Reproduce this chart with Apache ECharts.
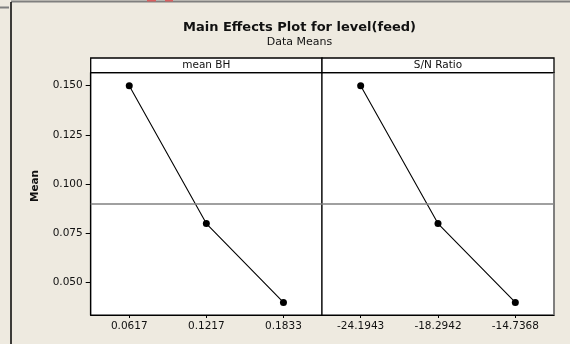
<!DOCTYPE html>
<html>
<head>
<meta charset="utf-8">
<script src="https://cdn.jsdelivr.net/npm/echarts@6/dist/echarts.min.js"></script>
<style>
html,body{margin:0;padding:0;background:#EEEAE0;}
#c{width:570px;height:344px;}
</style>
</head>
<body>
<div id="c"></div>
<script>
const levelsBH = ['0.0617', '0.1217', '0.1833'];
const levelsSN = ['-24.1943', '-18.2942', '-14.7368'];
const meansBH = [0.150, 0.080, 0.040];
const meansSN = [0.150, 0.080, 0.040];
const grandMean = 0.090;
const yTicks = [0.050, 0.075, 0.100, 0.125, 0.150];
const panelTitles = ['mean BH', 'S/N Ratio'];
const yMin = 0.0336, yMax = 0.1566;

const FONT = 'DejaVu Sans';
const chart = echarts.init(document.getElementById('c'), null, {renderer: 'canvas'});

const gridTop = 72.7, gridBottom = 29;
const pL = 90.7, pM = 322, pR = 554;

function xAxisFor(idx, cats) {
  return {
    type: 'category', gridIndex: idx, data: cats, boundaryGap: true,
    axisLine: {show: true, lineStyle: {color: '#000', width: 1.2}},
    axisTick: {show: true, alignWithLabel: true, length: 3, lineStyle: {color: '#000'}},
    axisLabel: {color: '#111', fontFamily: FONT, fontSize: 10.5, margin: 6},
    splitLine: {show: false}
  };
}
function yAxisFor(idx, showLabels) {
  return {
    type: 'value', gridIndex: idx, min: yMin, max: yMax,
    axisLine: {show: showLabels, lineStyle: {color: '#000', width: 1.2}},
    axisTick: {show: showLabels, customValues: yTicks, length: 5, lineStyle: {color: '#000'}},
    axisLabel: {show: showLabels, customValues: yTicks, color: '#111', fontFamily: FONT, fontSize: 10.5, margin: 8,
      formatter: v => v.toFixed(3)},
    splitLine: {show: false}
  };
}
function seriesFor(idx, vals) {
  return {
    type: 'line', xAxisIndex: idx, yAxisIndex: idx, data: vals,
    symbol: 'circle', symbolSize: 7, animation: false,
    itemStyle: {color: '#000'}, lineStyle: {color: '#000', width: 1.1},
    markLine: {
      silent: true, symbol: 'none', label: {show: false},
      lineStyle: {color: '#808080', width: 1.5, type: 'solid'},
      data: [{yAxis: grandMean}]
    }
  };
}

const headerGraphics = [];
[[pL, pM], [pM, pR]].forEach((b, i) => {
  headerGraphics.push({
    type: 'rect', shape: {x: b[0], y: 58, width: b[1] - b[0], height: 14.7},
    style: {fill: '#fff', stroke: '#000', lineWidth: 1.3}, z: 10
  });
  headerGraphics.push({
    type: 'text', x: (b[0] + b[1]) / 2, y: 65.5,
    style: {text: panelTitles[i], fill: '#111', font: '10.5px "DejaVu Sans"', textAlign: 'center', textVerticalAlign: 'middle'}, z: 11
  });
});

chart.setOption({
  backgroundColor: '#EEEAE0',
  animation: false,
  title: [{
    text: 'Main Effects Plot for level(feed)',
    subtext: 'Data Means',
    left: 294.5, top: 16, textAlign: 'center', itemGap: 3,
    textStyle: {fontFamily: FONT, fontWeight: 'bold', fontSize: 13, color: '#111'},
    subtextStyle: {fontFamily: FONT, fontSize: 11, color: '#111'}
  }],
  grid: [
    {left: pL, right: 570 - pM, top: gridTop, bottom: gridBottom, show: true, backgroundColor: '#fff', borderColor: '#000', borderWidth: 1.2},
    {left: pM, right: 570 - pR, top: gridTop, bottom: gridBottom, show: true, backgroundColor: '#fff', borderColor: '#000', borderWidth: 1.2}
  ],
  xAxis: [xAxisFor(0, levelsBH), xAxisFor(1, levelsSN)],
  yAxis: [yAxisFor(0, true), yAxisFor(1, false)],
  series: [seriesFor(0, meansBH), seriesFor(1, meansSN)],
  graphic: [
    {type: 'line', shape: {x1: 11, y1: 1.5, x2: 570, y2: 1.5}, style: {stroke: '#7f7f7f', lineWidth: 2}},
    {type: 'line', shape: {x1: 0, y1: 7.5, x2: 9, y2: 7.5}, style: {stroke: '#7f7f7f', lineWidth: 2}},
    {type: 'line', shape: {x1: 11, y1: 2, x2: 11, y2: 344}, style: {stroke: '#000', lineWidth: 1.5}},
    {type: 'rect', shape: {x: 147, y: 0, width: 9, height: 1.5}, style: {fill: '#d96060'}},
    {type: 'rect', shape: {x: 165, y: 0, width: 8, height: 1.5}, style: {fill: '#d96060'}},
    {type: 'line', shape: {x1: pR, y1: gridTop, x2: pR, y2: 344 - gridBottom}, style: {stroke: '#8a8a8a', lineWidth: 1.5}, z: 12},
    {
      type: 'text', x: 35, y: 186, rotation: Math.PI / 2,
      style: {text: 'Mean', fill: '#111', font: 'bold 10.5px "DejaVu Sans"', textAlign: 'center', textVerticalAlign: 'middle'}
    }
  ].concat(headerGraphics)
});
</script>
</body>
</html>
